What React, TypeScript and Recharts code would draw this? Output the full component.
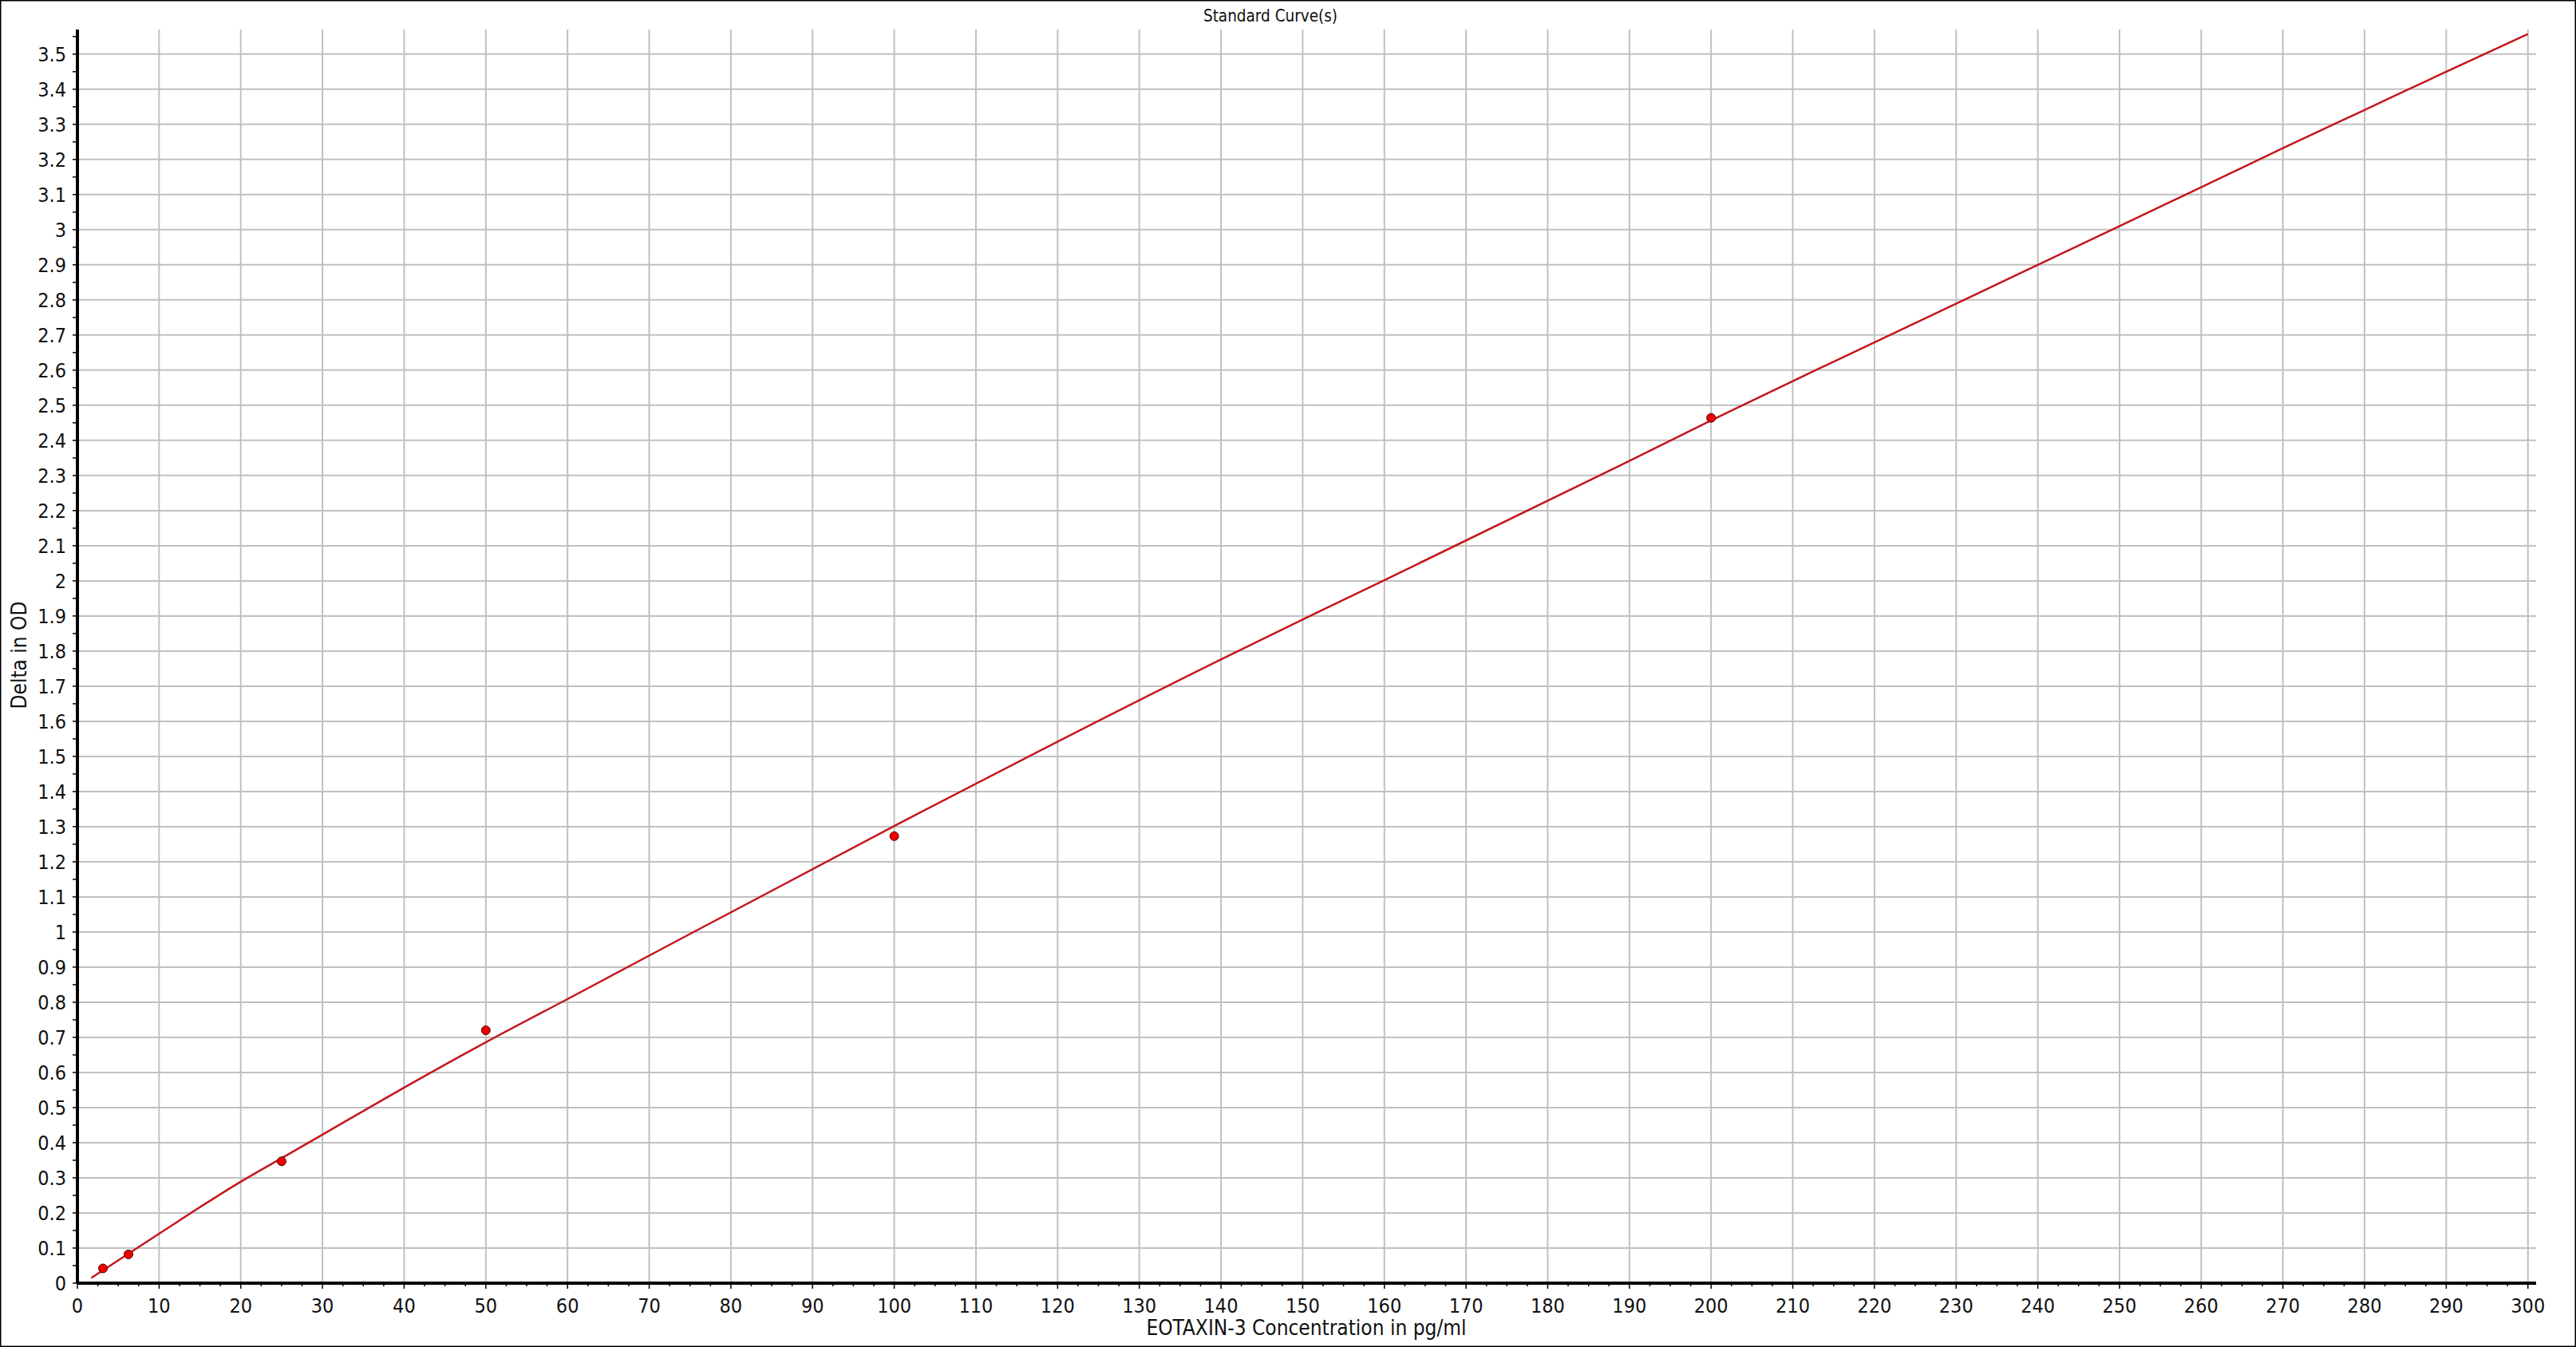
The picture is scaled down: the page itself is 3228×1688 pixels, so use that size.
import React from "react";
import { ComposedChart, Line, Scatter, XAxis, YAxis, CartesianGrid } from "recharts";

// standards (measured points)
const stdConc = [3.125, 6.25, 25, 50, 100, 200];
const stdOd = [0.042, 0.082, 0.347, 0.72, 1.273, 2.464];

// fitted standard curve
const fitConc = [1.7, 10, 20, 25, 30, 40, 50, 60, 100, 140, 150, 160, 189, 200, 213, 250, 270, 280, 290, 300];
const fitOd = [0.015, 0.141, 0.289, 0.356, 0.423, 0.557, 0.686, 0.809, 1.302, 1.776, 1.89, 2.002, 2.33, 2.457, 2.602, 3.01, 3.232, 3.341, 3.45, 3.557];

const xTickLabels = [
  "0", "10", "20", "30", "40", "50", "60", "70", "80", "90", "100", "110", "120", "130", "140", "150",
  "160", "170", "180", "190", "200", "210", "220", "230", "240", "250", "260", "270", "280", "290", "300",
];
const yTickLabels = [
  "0", "0.1", "0.2", "0.3", "0.4", "0.5", "0.6", "0.7", "0.8", "0.9", "1", "1.1", "1.2", "1.3", "1.4", "1.5",
  "1.6", "1.7", "1.8", "1.9", "2", "2.1", "2.2", "2.3", "2.4", "2.5", "2.6", "2.7", "2.8", "2.9", "3", "3.1",
  "3.2", "3.3", "3.4", "3.5",
];

const xMajor = xTickLabels.map(Number);
const yMajor = yTickLabels.map(Number);
// minor ticks: 3 between x majors, 1 between y majors
const xAll = xMajor.flatMap((v, i) => (i < xMajor.length - 1 ? [v, v + 2.5, v + 5, v + 7.5] : [v]));
const yAll = yMajor.flatMap((v) => [v, +(v + 0.05).toFixed(2)]);

const fitData = fitConc.map((conc, i) => ({ conc, od: fitOd[i] }));
const stdData = stdConc.map((conc, i) => ({ conc, od: stdOd[i] }));

const FONT = '"DejaVu Sans Condensed", "DejaVu Sans", sans-serif';

const XTick = (props: any) => {
  const { x, y, payload } = props;
  const major = xMajor.includes(payload.value);
  return (
    <g>
      <line x1={x} x2={x} y1={y} y2={y + (major ? 7 : 4)} stroke="#000" strokeWidth={1.5} />
      {major && (
        <text x={x} y={y + 37} textAnchor="middle" fontSize={25} fontFamily={FONT} fill="#111">
          {payload.value}
        </text>
      )}
    </g>
  );
};

const YTick = (props: any) => {
  const { x, y, payload } = props;
  const idx = yMajor.indexOf(payload.value);
  return (
    <g>
      <line x1={x - 6} x2={x} y1={y} y2={y} stroke="#000" strokeWidth={1.5} />
      {idx >= 0 && (
        <text x={x - 14} y={y + 9} textAnchor="end" fontSize={25} fontFamily={FONT} fill="#111">
          {yTickLabels[idx]}
        </text>
      )}
    </g>
  );
};

const Dot = (props: any) => {
  const { cx, cy } = props;
  return <circle cx={cx} cy={cy} r={5.5} fill="#f00000" stroke="#4a0000" strokeWidth={1} />;
};

export default function App() {
  return (
    <div style={{ position: "absolute", left: 0, top: 0, width: 3228, height: 1688, background: "#fff" }}>
      <ComposedChart width={3228} height={1688} margin={{ top: 37, right: 50, bottom: 20, left: 17 }}>
        <CartesianGrid
          stroke="#c0c0c0"
          strokeWidth={2}
          horizontalValues={yMajor}
          verticalValues={xMajor}
        />
        <XAxis
          type="number"
          dataKey="conc"
          domain={[0, 301]}
          ticks={xAll}
          interval={0}
          allowDataOverflow
          height={60}
          tickSize={0}
          tickMargin={0}
          tickLine={false}
          axisLine={{ stroke: "#000", strokeWidth: 4 }}
          tick={(p: any) => <XTick {...p} />}
        />
        <YAxis
          type="number"
          dataKey="od"
          domain={[0, 3.57]}
          ticks={yAll}
          interval={0}
          allowDataOverflow
          width={80}
          tickSize={0}
          tickMargin={0}
          tickLine={false}
          axisLine={{ stroke: "#000", strokeWidth: 4 }}
          tick={(p: any) => <YTick {...p} />}
        />
        <Line
          data={fitData}
          dataKey="od"
          type="monotone"
          stroke="#c4161c"
          strokeWidth={2.5}
          dot={false}
          activeDot={false}
          isAnimationActive={false}
        />
        <Scatter data={stdData} dataKey="od" shape={(p: any) => <Dot {...p} />} isAnimationActive={false} />
      </ComposedChart>
      <svg width={3228} height={1688} style={{ position: "absolute", left: 0, top: 0, pointerEvents: "none" }}>
        <text x={1592} y={27} textAnchor="middle" fontSize={20.5} fontFamily={FONT} fill="#111">
          Standard Curve(s)
        </text>
        <text x={1637} y={1673} textAnchor="middle" fontSize={26} fontFamily={FONT} fill="#111">
          EOTAXIN-3 Concentration in pg/ml
        </text>
        <text transform="translate(33,821) rotate(-90)" textAnchor="middle" fontSize={26} fontFamily={FONT} fill="#111">
          Delta in OD
        </text>
        <rect x={0.75} y={0.75} width={3226.5} height={1686.5} fill="none" stroke="#000" strokeWidth={1.5} />
      </svg>
    </div>
  );
}
